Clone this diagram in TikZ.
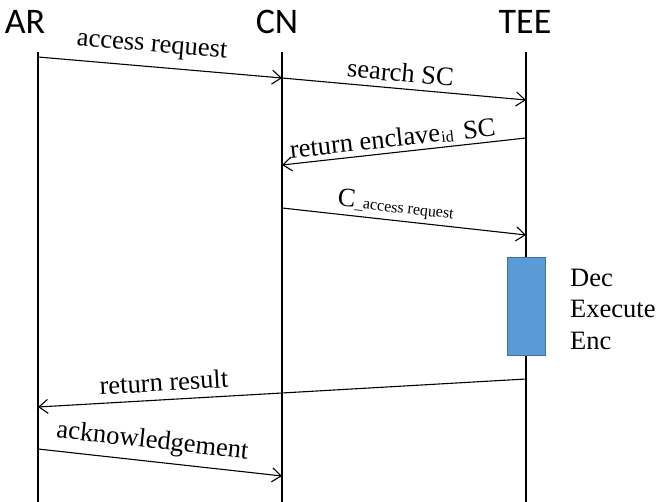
\documentclass[tikz,border=0pt]{standalone}
\usepackage{fontspec}
\setmainfont{Liberation Serif}
\newfontfamily\headfont{Carlito}
\usetikzlibrary{arrows.meta}
\definecolor{boxblue}{HTML}{5B9BD5}
\definecolor{boxedge}{HTML}{41719C}
\newcommand{\lbl}{\fontsize{26.5}{31.5}\selectfont}
\newcommand{\sml}{\fontsize{16}{16}\selectfont}

\begin{document}
\begin{tikzpicture}[x=1pt,y=-1pt,
        head/.style={font=\headfont\fontsize{36}{40}\selectfont, inner sep=0pt},
        life/.style={line width=2.3pt},
        msg/.style={line width=1.1pt, -{Straight Barb[length=9pt,width=14pt,line width=1.1pt]}},
        tag/.style={font=\lbl, inner sep=1pt, sloped}]
        \useasboundingbox (0,0) rectangle (656,502);

        \node[head] (AR) at (25,22) {AR};
        \node[head] (CN) at (277,22) {CN};
        \node[head] (TEE) at (525,22) {TEE};

        \coordinate (ARtop) at (38,52);
        \coordinate (ARbot) at (38,502);
        \coordinate (CNtop) at (282,52);
        \coordinate (CNbot) at (282,502);
        \coordinate (TEEtop) at (526,52);
        \coordinate (TEEbot) at (526,502);

        \draw[life] (ARtop) -- (ARbot);
        \draw[life] (CNtop) -- (CNbot);
        \draw[life] (TEEtop) -- (TEEbot);

        % enclave box
        \node[draw=boxedge, fill=boxblue, line width=0.8pt, minimum width=38pt,
              minimum height=98pt, inner sep=0pt] (box) at (526,306.5) {};
        \node[font=\lbl, align=left, anchor=west, inner sep=0pt] (work)
              at (570,309) {Dec\\Execute\\Enc};

        \draw[msg] (ARtop |- 0,57) -- node[tag, above=8pt, pos=0.46] (m1) {access request} (CNtop |- 0,78);
        \draw[msg] (CNtop |- 0,78) -- node[tag, above=5pt, pos=0.48] (m2) {search SC} (TEEtop |- 0,100);
        \draw[msg] (TEEtop |- 0,138) -- node[tag, above=3pt, pos=0.54] (m3) {return enclave\kern1pt\raisebox{-1pt}{\sml id}\hspace{10pt}SC} (CNtop |- 0,165);
        \draw[msg] (CNtop |- 0,208) -- node[tag, above=3pt, pos=0.46] (m4) {C\raisebox{-1pt}{\sml\_access request}} (TEEtop |- 0,235);
        \draw[msg] (TEEtop |- 0,379) -- node[tag, above=7pt, pos=0.74] (m5) {return result} (ARtop |- 0,407);
        \draw[msg] (ARtop |- 0,449) -- node[tag, above=6pt, pos=0.46] (m6) {acknowledgement} (CNtop |- 0,476);

    \end{tikzpicture}
\end{document}
